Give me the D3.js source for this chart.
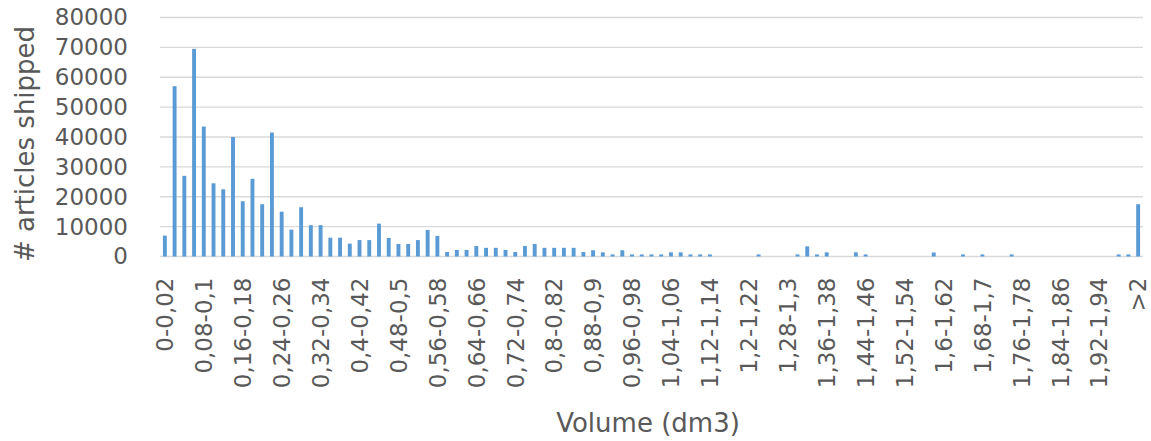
<!DOCTYPE html>
<html>
<head>
<meta charset="utf-8">
<script src="https://cdn.jsdelivr.net/npm/d3@7"></script>
<style>
  body { margin: 0; background: #fff; }
  text { font-family: "DejaVu Sans", sans-serif; fill: #595959; }
</style>
</head>
<body>
<svg id="chart" width="1151" height="441"></svg>
<script>
// volume bins (dm3)
const categories = [
  "0-0,02", "0,02-0,04", "0,04-0,06", "0,06-0,08", "0,08-0,1", "0,1-0,12", "0,12-0,14", "0,14-0,16",
  "0,16-0,18", "0,18-0,2", "0,2-0,22", "0,22-0,24", "0,24-0,26", "0,26-0,28", "0,28-0,3", "0,3-0,32",
  "0,32-0,34", "0,34-0,36", "0,36-0,38", "0,38-0,4", "0,4-0,42", "0,42-0,44", "0,44-0,46", "0,46-0,48",
  "0,48-0,5", "0,5-0,52", "0,52-0,54", "0,54-0,56", "0,56-0,58", "0,58-0,6", "0,6-0,62", "0,62-0,64",
  "0,64-0,66", "0,66-0,68", "0,68-0,7", "0,7-0,72", "0,72-0,74", "0,74-0,76", "0,76-0,78", "0,78-0,8",
  "0,8-0,82", "0,82-0,84", "0,84-0,86", "0,86-0,88", "0,88-0,9", "0,9-0,92", "0,92-0,94", "0,94-0,96",
  "0,96-0,98", "0,98-1", "1-1,02", "1,02-1,04", "1,04-1,06", "1,06-1,08", "1,08-1,1", "1,1-1,12",
  "1,12-1,14", "1,14-1,16", "1,16-1,18", "1,18-1,2", "1,2-1,22", "1,22-1,24", "1,24-1,26", "1,26-1,28",
  "1,28-1,3", "1,3-1,32", "1,32-1,34", "1,34-1,36", "1,36-1,38", "1,38-1,4", "1,4-1,42", "1,42-1,44",
  "1,44-1,46", "1,46-1,48", "1,48-1,5", "1,5-1,52", "1,52-1,54", "1,54-1,56", "1,56-1,58", "1,58-1,6",
  "1,6-1,62", "1,62-1,64", "1,64-1,66", "1,66-1,68", "1,68-1,7", "1,7-1,72", "1,72-1,74", "1,74-1,76",
  "1,76-1,78", "1,78-1,8", "1,8-1,82", "1,82-1,84", "1,84-1,86", "1,86-1,88", "1,88-1,9", "1,9-1,92",
  "1,92-1,94", "1,94-1,96", "1,96-1,98", "1,98-2", ">2"
];

// # articles shipped per bin
const shipped = [
  7000, 57000, 27000, 69500, 43500, 24500, 22500, 40000, 18500, 26000,
  17500, 41500, 15000, 9000, 16500, 10500, 10500, 6300, 6300, 4300,
  5500, 5500, 11000, 6200, 4200, 4200, 5500, 8900, 6900, 1500,
  2200, 2200, 3500, 2900, 2900, 2200, 1500, 3500, 4200, 2900,
  2900, 2900, 2900, 1500, 2100, 1400, 700, 2100, 700, 700,
  700, 700, 1400, 1400, 700, 700, 700, 0, 0, 0,
  0, 700, 0, 0, 0, 700, 3400, 700, 1400, 0,
  0, 1400, 700, 0, 0, 0, 0, 0, 0, 1350,
  0, 0, 700, 0, 700, 0, 0, 700, 0, 0,
  0, 0, 0, 0, 0, 0, 0, 0, 700, 700,
  17500
];

const yTicks = [0, 10000, 20000, 30000, 40000, 50000, 60000, 70000, 80000];
// only every 4th bin gets a label
const labelled = categories.filter((d, i) => i % 4 === 0);

const svg = d3.select('#chart');
const plotLeft = 160, plotRight = 1143, plotTop = 17.5, plotBottom = 256.5;

const x = d3.scaleBand()
    .domain(categories)
    .range([plotLeft, plotRight])
    .paddingInner(0.6)
    .paddingOuter(0.3);

const y = d3.scaleLinear()
    .domain([0, 80000])
    .range([plotBottom, plotTop]);

// gridlines
svg.append('g')
  .selectAll('line')
  .data(yTicks)
  .join('line')
    .attr('x1', plotLeft)
    .attr('x2', plotRight)
    .attr('y1', d => y(d))
    .attr('y2', d => y(d))
    .attr('stroke', '#d9d9d9')
    .attr('stroke-width', 1.3);

// y axis labels
const yAxis = svg.append('g')
    .attr('transform', `translate(${plotLeft - 32},0)`)
    .call(d3.axisLeft(y).tickValues(yTicks).tickSize(0).tickPadding(0).tickFormat(d3.format('d')));
yAxis.select('.domain').remove();
yAxis.selectAll('text')
    .attr('font-family', '"DejaVu Sans", sans-serif')
    .attr('font-size', 23)
    .attr('fill', '#595959');

// bars
svg.append('g')
  .selectAll('rect')
  .data(shipped)
  .join('rect')
    .attr('x', (d, i) => x(categories[i]))
    .attr('width', x.bandwidth())
    .attr('y', d => y(d))
    .attr('height', d => y(0) - y(d))
    .attr('fill', '#5b9bd5');

// x axis labels, rotated
const xAxis = svg.append('g')
    .attr('transform', `translate(0,${plotBottom})`)
    .call(d3.axisBottom(x).tickValues(labelled).tickSize(0));
xAxis.select('.domain').remove();
xAxis.selectAll('text')
    .attr('font-family', '"DejaVu Sans", sans-serif')
    .attr('font-size', 23)
    .attr('fill', '#595959')
    .attr('text-anchor', 'end')
    .attr('transform', 'translate(0,21) rotate(-90)')
    .attr('x', 0)
    .attr('y', 0)
    .attr('dy', '0.36em');

// axis titles
svg.append('text')
    .attr('x', 648)
    .attr('y', 432)
    .attr('text-anchor', 'middle')
    .attr('font-size', 26)
    .text('Volume (dm3)');

svg.append('text')
    .attr('transform', 'translate(34,144) rotate(-90)')
    .attr('text-anchor', 'middle')
    .attr('font-size', 26)
    .text('# articles shipped');
</script>
</body>
</html>
